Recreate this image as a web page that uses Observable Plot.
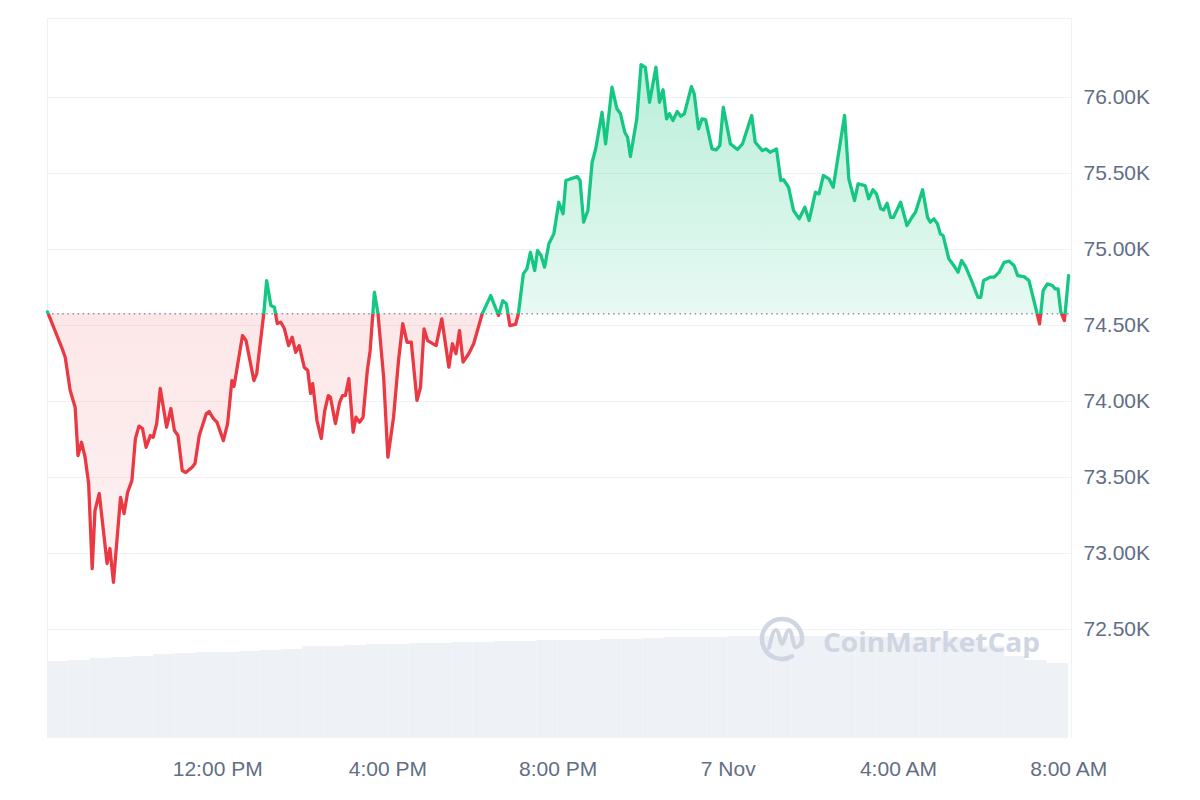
<!DOCTYPE html>
<html>
<head>
<meta charset="utf-8">
<script src="https://cdn.jsdelivr.net/npm/d3@7"></script>
<script src="https://cdn.jsdelivr.net/npm/@observablehq/plot@0.6"></script>
<style>
  body { margin: 0; background: #ffffff; }
  #wrap { position: relative; width: 1200px; height: 800px; overflow: hidden; }
  #wrap svg { position: absolute; left: 0; top: 0; }
</style>
</head>
<body>
<div id="wrap"></div>
<script>
// ---------------- data ----------------
const startTime = Date.UTC(2024, 10, 6, 8, 0); // 6 Nov, 8:00 AM
// minutes after the start
const minutes = [0,20,25,32,39,43,48,53,58,63,67,73,84,88,93,103,108,113,119,124,129,134,139,145,149,154,159,168,174,179,184,190,195,204,208,214,224,228,234,239,248,254,260,263,275,280,291,295,305,309,315,320,324,329,334,340,345,350,355,362,367,371,374,380,386,391,396,399,406,412,416,420,425,431,435,440,445,451,455,461,466,474,480,488,495,501,507,513,521,526,531,536,548,556,566,571,576,581,586,594,601,613,625,636,642,647,652,660,664,671,676,681,687,691,696,701,707,714,721,727,731,747,751,756,762,768,773,782,787,796,803,808,814,818,822,831,837,843,849,858,863,868,873,877,882,888,893,898,908,912,918,923,928,937,943,948,953,963,973,980,993,998,1008,1013,1019,1028,1034,1038,1045,1052,1060,1068,1074,1083,1088,1094,1102,1108,1124,1130,1138,1143,1153,1158,1164,1169,1175,1179,1184,1189,1193,1203,1212,1219,1224,1234,1241,1245,1250,1255,1259,1263,1271,1278,1284,1289,1295,1303,1312,1316,1320,1325,1329,1335,1342,1349,1356,1363,1368,1377,1384,1391,1399,1404,1410,1417,1421,1425,1429,1434,1440];
// BTC price, USD
const prices = [74590,74357,74291,74072,73962,73645,73732,73634,73461,72901,73283,73395,72934,73033,72811,73370,73263,73403,73480,73757,73838,73822,73699,73776,73765,73855,74086,73831,73954,73809,73776,73546,73533,73568,73592,73776,73921,73934,73888,73864,73743,73855,74138,74099,74434,74401,74138,74184,74579,74796,74632,74620,74513,74522,74480,74368,74423,74324,74368,74226,74204,74053,74118,73875,73757,73941,74039,74028,73855,73995,74039,74039,74151,73798,73897,73864,73897,74204,74336,74719,74579,74160,73634,73897,74270,74513,74390,74390,74007,74094,74478,74401,74368,74544,74226,74380,74314,74467,74259,74314,74380,74577,74697,74566,74664,74643,74500,74507,74577,74840,74873,74982,74862,74993,74961,74884,75038,75103,75311,75235,75454,75480,75454,75180,75257,75574,75662,75903,75695,76068,75926,75893,75772,75739,75612,75860,76217,76199,75969,76199,75969,76051,75860,75893,75849,75908,75877,75893,76072,76024,75794,75860,75855,75662,75656,75684,75936,75695,75658,75695,75882,75706,75651,75662,75640,75662,75454,75459,75410,75257,75202,75278,75191,75377,75366,75487,75465,75410,75882,75465,75322,75432,75421,75334,75393,75366,75268,75261,75305,75212,75212,75311,75158,75212,75245,75393,75212,75180,75202,75169,75103,75092,74939,74895,74851,74928,74884,74796,74686,74686,74796,74807,74818,74818,74851,74916,74923,74895,74829,74822,74796,74664,74511,74730,74774,74763,74741,74741,74588,74533,74829];
const openPrice = 74577; // reference (dotted) line
// 24h volume, billions USD, one value per 30-minute bucket
const volume24h = [38.5,39,40,40.5,41,42,42.5,43,43,43.5,44,44.5,46,46,46.5,47,47,47.5,47.5,48,48,48.5,48.5,49,49,49,49.5,49.5,50,50.5,50.5,50.5,51,51,51,51,51,51,51,50.5,50.5,50.5,50,49.5,46,41,39,37.5];
const volumeBucketMinutes = 30;
const yTicks = [72500,73000,73500,74000,74500,75000,75500,76000];
const xTickTimes = ["2024-11-06T12:00:00Z","2024-11-06T16:00:00Z","2024-11-06T20:00:00Z","2024-11-07T00:00:00Z","2024-11-07T04:00:00Z","2024-11-07T08:00:00Z"];
const xTickLabels = ["12:00 PM","4:00 PM","8:00 PM","7 Nov","4:00 AM","8:00 AM"];

// ---------------- layout ----------------
const W = 1200, H = 800;
const margins = {marginTop: 18, marginRight: 129, marginBottom: 62, marginLeft: 47};
const xDomain = [new Date(startTime), new Date(startTime + 1444 * 60000)];
const yDomain = [71783, 76520];
const GREEN = "#16c784", RED = "#ea3943", GRID = "#eff2f5";

const series = minutes.map((m, i) => ({t: new Date(startTime + m * 60000), price: prices[i]}));
const volBars = volume24h.map((v, i) => ({
  t1: new Date(startTime + i * volumeBucketMinutes * 60000),
  t2: new Date(startTime + (i + 1) * volumeBucketMinutes * 60000),
  v
}));
const tickDates = xTickTimes.map(d => new Date(d));

const wrap = document.getElementById("wrap");

// volume layer (own scale, underneath)
const volPlot = Plot.plot({
  width: W, height: H, ...margins,
  style: {background: "transparent"},
  x: {type: "utc", domain: xDomain, axis: null},
  y: {domain: [0, 360], axis: null},
  marks: [
    Plot.rectY(volBars, {x1: "t1", x2: "t2", y1: 0, y2: "v", fill: "#eef1f5"})
  ]
});
wrap.appendChild(volPlot);

// price layer
const pricePlot = Plot.plot({
  width: W, height: H, ...margins,
  style: {background: "transparent", fontFamily: "'Liberation Sans', Arial, sans-serif", fontSize: "21px", color: "#616e85", overflow: "visible"},
  x: {type: "utc", domain: xDomain, ticks: tickDates, label: null, tickSize: 0, tickPadding: 23,
      tickFormat: d => xTickLabels[tickDates.findIndex(t => +t === +d)]},
  y: {domain: yDomain, axis: "right", ticks: yTicks, label: null, tickSize: 0, tickPadding: 12,
      tickFormat: d => (d / 1000).toFixed(2) + "K"},
  marks: [
    Plot.ruleY(yTicks, {stroke: GRID, strokeWidth: 1}),
    Plot.ruleY([yDomain[1]], {stroke: GRID, strokeWidth: 1}),
    Plot.ruleX(xDomain, {stroke: GRID, strokeWidth: 1}),
    Plot.areaY(series, {x: "t", y1: openPrice, y2: "price", fill: "url(#cmcFill)"}),
    Plot.ruleY([openPrice], {stroke: "#8a93a6", strokeWidth: 1.5, strokeDasharray: "1.5,3.6"}),
    Plot.line(series, {x: "t", y: "price", stroke: "url(#cmcLine)", strokeWidth: 3.3, strokeLinejoin: "round", strokeLinecap: "round"})
  ]
});
wrap.appendChild(pricePlot);

// gradients split at the reference price
const ys = pricePlot.scale("y");
const yAt = v => ys.apply(v);
const yb = yAt(openPrice);
const yHi = yAt(d3.max(prices));
const yLo = yAt(d3.min(prices));
const svg = d3.select(pricePlot);
const defs = svg.insert("defs", ":first-child");
function grad(id, stops) {
  const g = defs.append("linearGradient").attr("id", id).attr("gradientUnits", "userSpaceOnUse")
    .attr("x1", 0).attr("x2", 0).attr("y1", 0).attr("y2", H);
  stops.forEach(([o, c, a]) => g.append("stop").attr("offset", o).attr("stop-color", c).attr("stop-opacity", a));
}
grad("cmcLine", [[0, GREEN, 1], [yb / H, GREEN, 1], [yb / H, RED, 1], [1, RED, 1]]);
grad("cmcFill", [[yHi / H, GREEN, 0.3], [yb / H, GREEN, 0.1], [yb / H, RED, 0.12], [yLo / H, RED, 0.07]]);

// watermark
const wm = d3.create("svg").attr("width", W).attr("height", H).style("pointer-events", "none");
const wmColor = "#cfd6e1";
const cx = 782, cy = 639, r = 20;
const a0 = 60 * Math.PI / 180, a1 = 15 * Math.PI / 180;
wm.append("path")
  .attr("d", `M${cx + r * Math.cos(a0)},${cy + r * Math.sin(a0)} A${r},${r} 0 1 1 ${cx + r * Math.cos(a1)},${cy + r * Math.sin(a1)}`)
  .attr("fill", "none").attr("stroke", wmColor).attr("stroke-width", 4.5).attr("stroke-linecap", "round");
wm.append("path")
  .attr("d", `M769,648 C771,640 773,630 776,630 C779,630 780,644 782,644 C784,644 786,630 789,630 C792,630 793,646 795,647 C797,648 799,646 801,643`)
  .attr("fill", "none").attr("stroke", wmColor).attr("stroke-width", 4).attr("stroke-linecap", "round").attr("stroke-linejoin", "round");
wm.append("text")
  .attr("x", 823).attr("y", 652)
  .attr("textLength", 217).attr("lengthAdjust", "spacingAndGlyphs")
  .style("font-family", "'Open Sans', 'DejaVu Sans', sans-serif").style("font-size", "26px").style("font-weight", "700")
  .attr("fill", wmColor)
  .text("CoinMarketCap");
wrap.appendChild(wm.node());
</script>
</body>
</html>
